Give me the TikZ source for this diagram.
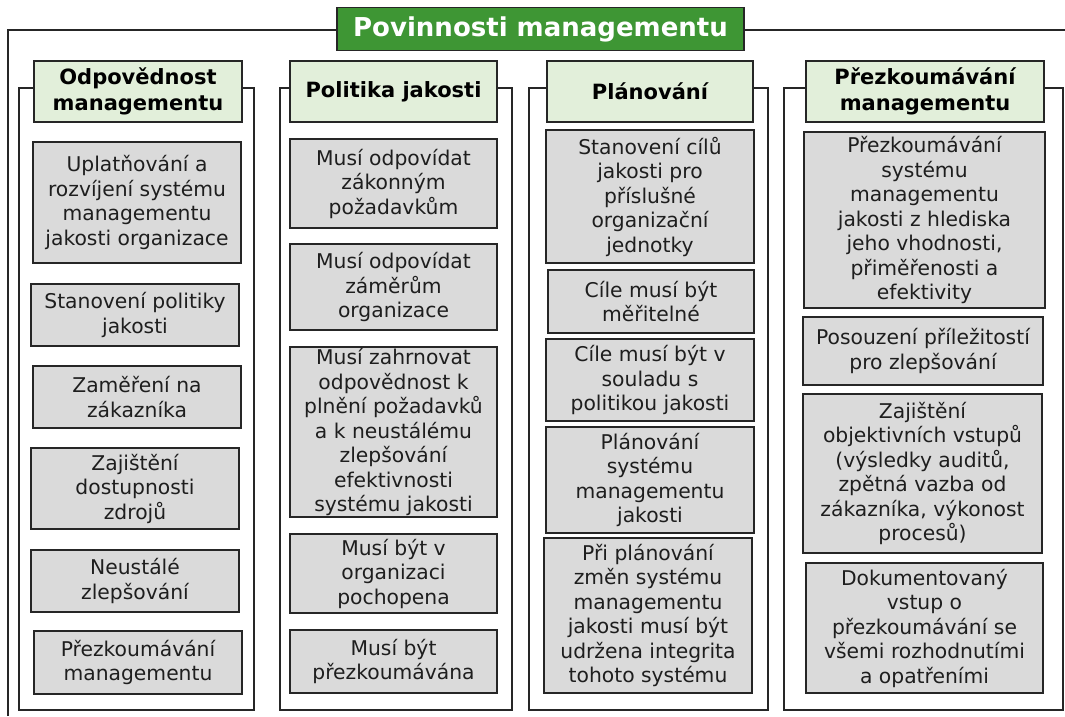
\documentclass[tikz,border=0pt]{standalone}
\usepackage{fontspec}
\setmainfont{DejaVu Sans}
\definecolor{titlegreen}{RGB}{62,150,52}
\definecolor{headgreen}{RGB}{226,239,218}
\definecolor{itemgray}{RGB}{218,218,218}
\definecolor{edge}{RGB}{38,38,38}
\definecolor{ink}{RGB}{30,30,30}

\tikzset{
  frame/.style={draw=edge, line width=1.6pt},
  sz/.style 2 args={minimum width=#1pt, minimum height=#2pt},
  item/.style={draw=edge, line width=1.8pt, fill=itemgray, inner sep=0pt,
    align=center, text=ink, font=\fontsize{20.3}{24.5}\selectfont},
  head/.style={draw=edge, line width=1.8pt, fill=headgreen, inner sep=0pt,
    align=center, text=black, font=\bfseries\fontsize{21}{26.5}\selectfont},
  maintitle/.style={draw=edge, line width=1.8pt, fill=titlegreen, text=white,
    inner sep=0pt, font=\bfseries\fontsize{26}{30}\selectfont}
}

\begin{document}
\begin{tikzpicture}[x=1pt, y=-1pt]
  \useasboundingbox (0,0) rectangle (1065,716);
  \fill[white] (0,0) rectangle (1065,716);

  % outer frame
  \draw[frame] (8,716) -- (8,30) -- (1065,30);
  \node[maintitle, sz={407}{43}] (title) at (540.5,29) {Povinnosti managementu};

  % column frames
  \draw[frame] (19,88) rectangle (254,710);
  \draw[frame] (280,88) rectangle (512,710);
  \draw[frame] (529,88) rectangle (768,710);
  \draw[frame] (784,88) rectangle (1063,710);

  % column headers
  \node[head, sz={208}{61}] (h1) at (138,91.5) {Odpovědnost\\managementu};
  \node[head, sz={207}{61}] (h2) at (393.5,91.5) {Politika jakosti};
  \node[head, sz={206}{61}] (h3) at (650,91.5) {Plánování};
  \node[head, sz={238}{61}] (h4) at (925,91.5) {Přezkoumávání\\managementu};

  % column 1
  \node[item, sz={208}{121}] (a1) at (137,202.5) {Uplatňování a\\rozvíjení systému\\managementu\\jakosti organizace};
  \node[item, sz={208}{62}] (a2) at (135,315) {Stanovení politiky\\jakosti};
  \node[item, sz={208}{62}] (a3) at (137,397) {Zaměření na\\zákazníka};
  \node[item, sz={208}{81}] (a4) at (135,488.5) {Zajištění\\dostupnosti\\zdrojů};
  \node[item, sz={208}{62}] (a5) at (135,581) {Neustálé\\zlepšování};
  \node[item, sz={208}{63}] (a6) at (138,662.5) {Přezkoumávání\\managementu};

  % column 2
  \node[item, sz={207}{89}] (b1) at (393.5,183.5) {Musí odpovídat\\zákonným\\požadavkům};
  \node[item, sz={207}{86}] (b2) at (393.5,287) {Musí odpovídat\\záměrům\\organizace};
  \node[item, sz={207}{170}] (b3) at (393.5,432) {Musí zahrnovat\\odpovědnost k\\plnění požadavků\\a k neustálému\\zlepšování\\efektivnosti\\systému jakosti};
  \node[item, sz={207}{79}] (b4) at (393.5,573.5) {Musí být v\\organizaci\\pochopena};
  \node[item, sz={207}{63}] (b5) at (393.5,661.5) {Musí být\\přezkoumávána};

  % column 3
  \node[item, sz={208}{133}] (c1) at (650,196.5) {Stanovení cílů\\jakosti pro\\příslušné\\organizační\\jednotky};
  \node[item, sz={206}{63}] (c2) at (651,301.5) {Cíle musí být\\měřitelné};
  \node[item, sz={208}{82}] (c3) at (650,380) {Cíle musí být v\\souladu s\\politikou jakosti};
  \node[item, sz={208}{106}] (c4) at (650,480) {Plánování\\systému\\managementu\\jakosti};
  \node[item, sz={208}{155}] (c5) at (648,615.5) {Při plánování\\změn systému\\managementu\\jakosti musí být\\udržena integrita\\tohoto systému};

  % column 4
  \node[item, sz={241}{176}] (d1) at (924.5,220) {Přezkoumávání\\systému\\managementu\\jakosti z hlediska\\jeho vhodnosti,\\přiměřenosti a\\efektivity};
  \node[item, sz={240}{68}] (d2) at (923,351) {Posouzení příležitostí\\pro zlepšování};
  \node[item, sz={239}{159}] (d3) at (922.5,473.5) {Zajištění\\objektivních vstupů\\(výsledky auditů,\\zpětná vazba od\\zákazníka, výkonost\\procesů)};
  \node[item, sz={237}{130}] (d4) at (924.5,628) {Dokumentovaný\\vstup o\\přezkoumávání se\\všemi rozhodnutími\\a opatřeními};
\end{tikzpicture}
\end{document}
